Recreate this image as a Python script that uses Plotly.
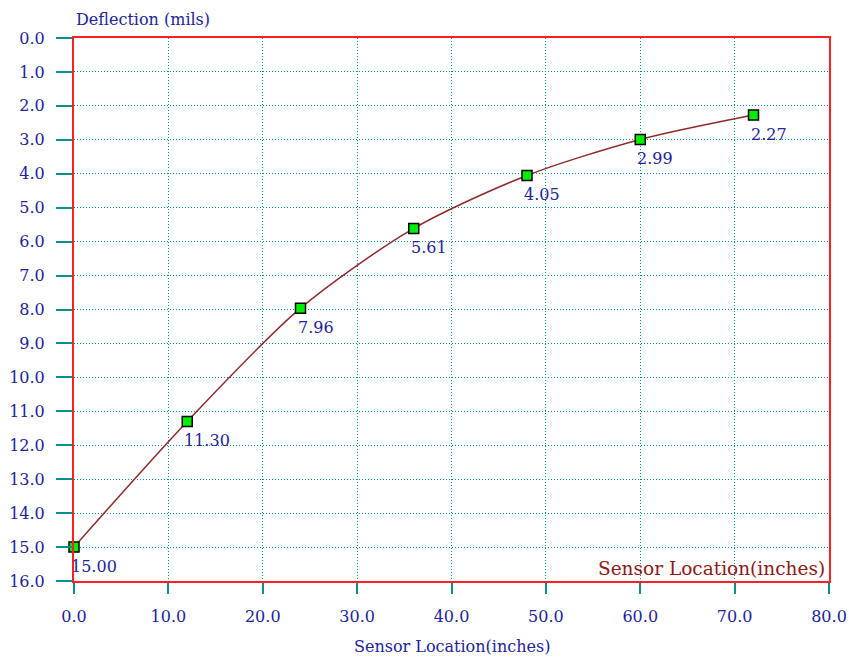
import plotly.graph_objects as go

sensor_location = [0, 12, 24, 36, 48, 60, 72]
deflection = [15.00, 11.30, 7.96, 5.61, 4.05, 2.99, 2.27]
point_labels = ["15.00", "11.30", "7.96", "5.61", "4.05", "2.99", "2.27"]
x_ticks = [0, 10, 20, 30, 40, 50, 60, 70, 80]
y_ticks = list(range(0, 17))

navy = "#22229a"
teal = "#0a8f8f"
serif = "DejaVu Serif, serif"

fig = go.Figure()
fig.add_trace(go.Scatter(
    x=sensor_location, y=deflection, mode="lines+markers",
    line=dict(color="#8b2a2a", width=1.5, shape="spline", smoothing=0.8),
    marker=dict(symbol="square", size=10, color="#00ee00",
                line=dict(color="black", width=1.5)),
    cliponaxis=False,
    showlegend=False, hoverinfo="x+y"))

for xv, yv, lab in zip(sensor_location, deflection, point_labels):
    fig.add_annotation(x=xv, y=yv, text=lab, showarrow=False,
                       xanchor="left", yanchor="middle", xshift=-5, yshift=-19,
                       font=dict(family=serif, size=16, color=navy))

fig.add_annotation(xref="paper", yref="paper", x=0.0, y=1.0, yshift=19,
                   text="Deflection (mils)", showarrow=False,
                   xanchor="left", yanchor="middle",
                   font=dict(family=serif, size=16, color=navy))
fig.add_annotation(xref="paper", yref="paper", x=1.0, y=0.0, yshift=13, xshift=-2,
                   text="Sensor Location(inches)", showarrow=False,
                   xanchor="right", yanchor="middle",
                   font=dict(family=serif, size=18.5, color="#8b1a1a"))
fig.add_annotation(xref="paper", yref="paper", x=0.5, y=-0.1215,
                   text="Sensor Location(inches)", showarrow=False,
                   xanchor="center", yanchor="middle",
                   font=dict(family=serif, size=16, color=navy))

grid_dash = "1px,2px"
fig.update_xaxes(range=[0, 80], tickvals=x_ticks,
                 ticktext=[f"{v:.1f}" for v in x_ticks],
                 ticks="outside", ticklen=11, tickcolor=teal, tickwidth=2,
                 ticklabelstandoff=9, automargin=False,
                 showgrid=True, gridcolor=teal, griddash=grid_dash, gridwidth=1.3,
                 showline=True, linecolor="#ff2020", linewidth=2, mirror=True,
                 zeroline=False,
                 tickfont=dict(family=serif, size=16, color=navy))
fig.update_yaxes(range=[16, 0], tickvals=y_ticks,
                 ticktext=[f"{v:.1f}" for v in y_ticks],
                 ticks="outside", ticklen=16, tickcolor=teal, tickwidth=2,
                 ticklabelstandoff=8, automargin=False,
                 showgrid=True, gridcolor=teal, griddash=grid_dash, gridwidth=1.3,
                 showline=True, linecolor="#ff2020", linewidth=2, mirror=True,
                 zeroline=False,
                 tickfont=dict(family=serif, size=16, color=navy))

fig.update_layout(width=849, height=657,
                  margin=dict(l=74, r=20, t=38, b=76),
                  paper_bgcolor="white", plot_bgcolor="white")

fig.write_html("out.html",
               config={"displayModeBar": False},
               post_script="document.body.style.margin='0px';"
                           "document.body.style.overflow='hidden';")
